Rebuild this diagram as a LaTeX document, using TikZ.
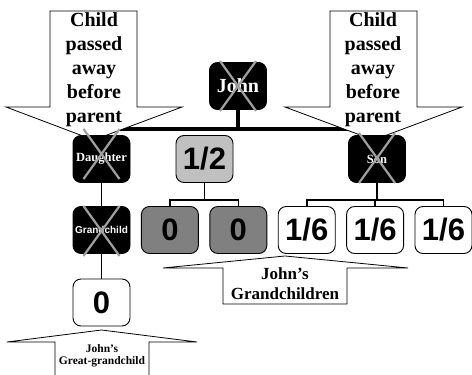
\documentclass[tikz,border=0pt]{standalone}
\usepackage{fontspec}
\setmainfont{Liberation Serif}
\setsansfont{Liberation Sans}
\usetikzlibrary{positioning}
\pgfdeclarelayer{links}
\pgfdeclarelayer{notes}
\pgfdeclarelayer{marks}
\pgfsetlayers{links,notes,main,marks}
\definecolor{halfgray}{HTML}{C0C0C0}
\definecolor{zerogray}{HTML}{808080}
\definecolor{crossgray}{HTML}{A0A0A0}

\begin{document}
\begin{tikzpicture}[x=1pt,y=1pt,on grid,
    person/.style={draw=black,line width=0.9pt,rounded corners=8pt,minimum width=57pt,minimum height=47pt,inner sep=0pt},
    dead/.style={person,fill=black,text=white,font=\bfseries\fontsize{12.5}{14}\selectfont},
    share/.style={person,fill=white,font=\sffamily\bfseries\fontsize{31}{34}\selectfont},
    trunk/.style={line width=3.5pt},
    link/.style={line width=1.6pt},
    note/.style={draw=black,fill=white,line width=0.8pt},
    notetext/.style={align=center,inner sep=0pt},
    cross/.style={draw=crossgray,line width=2.2pt}]
  \useasboundingbox (0,0) rectangle (472,375);

  % family tree
  \node[dead,font=\bfseries\fontsize{20}{22}\selectfont] (john) at (238,289) {John};
  \node[dead] (daughter) at (101.5,216) {Daughter};
  \node[share,fill=halfgray] (spouse) [right=103pt of daughter] {1/2};
  \node[dead] (son) [right=275.5pt of daughter] {Son};
  \node[dead,font=\sffamily\bfseries\fontsize{10}{12}\selectfont] (grandchild) [below=71pt of daughter] {Grandchild};
  \node[share,fill=zerogray] (gc_a) [right=68.4pt of grandchild] {0};
  \node[share,fill=zerogray] (gc_b) [right=68.4pt of gc_a] {0};
  \node[share] (gc_c) [right=68.4pt of gc_b] {1/6};
  \node[share] (gc_d) [right=68.4pt of gc_c] {1/6};
  \node[share] (gc_e) [right=68.4pt of gc_d] {1/6};
  \node[share] (ggc) [below=72.5pt of grandchild] {0};

  \begin{pgfonlayer}{links}
    \coordinate (barlevel) at (0,246);
    \coordinate (forklevel) at (0,175);
    \draw[trunk] (john.south) -- (john.south |- barlevel);
    \draw[trunk] (daughter.north) -- (daughter.north |- barlevel)
      -- (son.north |- barlevel) -- (son.north);
    \draw[link] (daughter) -- (grandchild) -- (ggc);
    \draw[link] (spouse.south) -- (spouse.south |- forklevel);
    \draw[link] (gc_a.north) -- (gc_a.north |- forklevel)
      -- (gc_b.north |- forklevel) -- (gc_b.north);
    \draw[link] (son.south) -- (son.south |- forklevel);
    \draw[link] (gc_c.north) -- (gc_c.north |- forklevel)
      -- (gc_e.north |- forklevel) -- (gc_e.north);
    \draw[link] (gc_d.north) -- (gc_d.north |- forklevel);
  \end{pgfonlayer}

  % callouts
  \begin{pgfonlayer}{notes}
    \draw[note] (50,364) -- (137,364) -- (137,268) -- (182,268) -- (93.5,235)
      -- (6,268) -- (50,268) -- cycle;
    \draw[note] (330,364) -- (417,364) -- (417,268) -- (462,268) -- (373.5,235)
      -- (285,268) -- (330,268) -- cycle;
    \draw[note] (223,71) -- (223,107) -- (163,107) -- (285,119) -- (408,107)
      -- (347,107) -- (347,71) -- cycle;
    \fill[white] (55,-2) -- (55,33) -- (7,33) -- (101.5,45) -- (197,33)
      -- (149,33) -- (149,-2) -- cycle;
    \draw[note] (55,-2) -- (55,33) -- (7,33) -- (101.5,45) -- (197,33)
      -- (149,33) -- (149,-2);
    \node[notetext,font=\bfseries\fontsize{20}{24}\selectfont] (note_left) at (94,305)
      {Child\\passed\\away\\before\\parent};
    \node[notetext,font=\bfseries\fontsize{20}{24}\selectfont] (note_right) at (373,305)
      {Child\\passed\\away\\before\\parent};
    \node[notetext,font=\bfseries\fontsize{17}{20}\selectfont] (note_mid) at (285,91)
      {John's\\Grandchildren};
    \node[notetext,font=\bfseries\fontsize{11.5}{12.5}\selectfont] (note_low) at (102,19)
      {John's\\Great-grandchild};
  \end{pgfonlayer}

  % crossed out
  \begin{pgfonlayer}{marks}
    \foreach \who/\dy in {john/0,daughter/5,son/1,grandchild/-1}
      \draw[cross] ([shift={(-18,25+\dy)}]\who.center) -- ([shift={(18,-25+\dy)}]\who.center)
        ([shift={(18,25+\dy)}]\who.center) -- ([shift={(-18,-25+\dy)}]\who.center);
  \end{pgfonlayer}
\end{tikzpicture}
\end{document}
